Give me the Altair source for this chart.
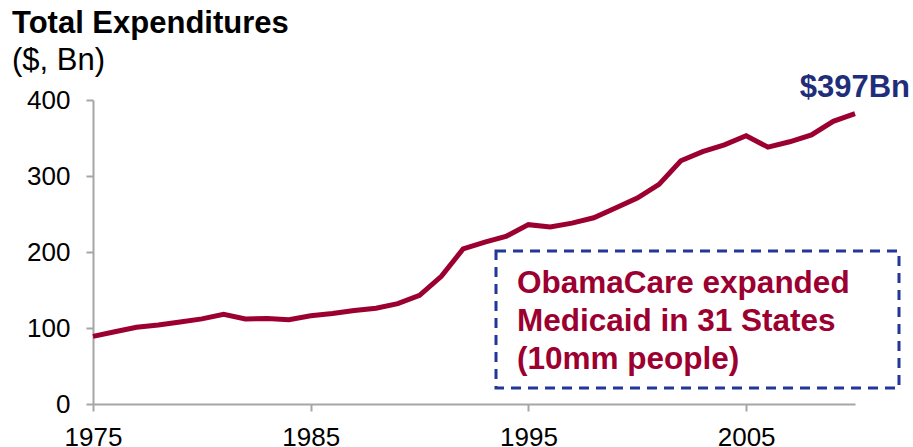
import altair as alt
import pandas as pd

# Total expenditures, $ billions
years = list(range(1975, 2011))
spending = [89, 95, 101, 104, 108, 112, 118, 112, 112.5, 111,
            116, 119, 123, 126, 132, 143, 168, 204, 213, 221,
            236, 233, 238, 245, 258, 271, 289, 320, 332, 341,
            353, 338, 345, 354, 372, 382]

x_ticks = [1975, 1985, 1995, 2005]
y_ticks = [0, 100, 200, 300, 400]

title_text = "Total Expenditures"
unit_text = "($, Bn)"
headline = "$397Bn"
note_lines = ["ObamaCare expanded", "Medicaid in 31 States", "(10mm people)"]

RED = "#9C0030"
NAVY = "#233796"
NAVY_TEXT = "#1F2E7A"
AXIS_GREY = "#A6A6A6"
FONT = "Liberation Sans"

W, H = 762, 304

df = pd.DataFrame({"year": years, "spend": spending})
one = pd.DataFrame({"k": [0]})

x_scale = alt.Scale(domain=[1975, 2010], nice=False, zero=False)
y_scale = alt.Scale(domain=[0, 400], nice=False)

line = alt.Chart(df).mark_line(color=RED, strokeWidth=5).encode(
    x=alt.X("year:Q", scale=x_scale,
            axis=alt.Axis(values=x_ticks, format="d", title=None, grid=False,
                          domainColor=AXIS_GREY, domainWidth=2,
                          tickColor=AXIS_GREY, tickWidth=2, tickSize=7,
                          labelFont=FONT, labelFontSize=26, labelColor="#000",
                          labelPadding=13, labelFlush=False, labelOverlap=False)),
    y=alt.Y("spend:Q", scale=y_scale,
            axis=alt.Axis(values=y_ticks, title=None, grid=False,
                          domainColor=AXIS_GREY, domainWidth=2,
                          tickColor=AXIS_GREY, tickWidth=2, tickSize=7,
                          labelFont=FONT, labelFontSize=26, labelColor="#000",
                          labelPadding=16)),
)

title = alt.Chart(one).mark_text(
    text=title_text, font=FONT, fontSize=31, fontWeight="bold",
    align="left", baseline="alphabetic", color="#000"
).encode(x=alt.value(-81), y=alt.value(-67))

unit = alt.Chart(one).mark_text(
    text=unit_text, font=FONT, fontSize=31,
    align="left", baseline="alphabetic", color="#000"
).encode(x=alt.value(-81), y=alt.value(-30))

head = alt.Chart(one).mark_text(
    text=headline, font=FONT, fontSize=31, fontWeight="bold",
    align="right", baseline="alphabetic", color=NAVY_TEXT
).encode(x=alt.value(817), y=alt.value(-3.5))

box = alt.Chart(one).mark_rect(
    filled=False, stroke=NAVY, strokeWidth=3, strokeDash=[10, 7]
).encode(x=alt.value(403), x2=alt.value(806), y=alt.value(151), y2=alt.value(288))

note = alt.Chart(one).mark_text(
    text="\n".join(note_lines), lineBreak="\n", lineHeight=38,
    font=FONT, fontSize=31.5, fontWeight="bold",
    align="left", baseline="alphabetic", color=RED
).encode(x=alt.value(424), y=alt.value(193))

chart = alt.layer(line, box, note, head, title, unit).properties(
    width=W, height=H,
    autosize=alt.AutoSizeParams(type="none"),
    padding={"left": 93, "top": 100, "right": 58, "bottom": 43},
    background="white",
).configure_view(stroke=None)

chart.save("out.html", embed_options={"renderer": "svg", "actions": False})
